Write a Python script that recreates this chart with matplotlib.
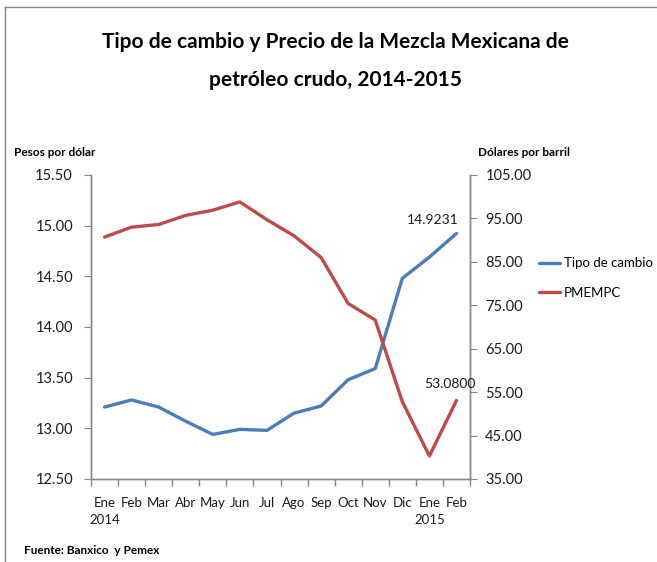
import matplotlib
matplotlib.use("Agg")
import matplotlib.pyplot as plt
from matplotlib.lines import Line2D
import numpy as np

plt.rcParams["font.family"] = ["Lato", "DejaVu Sans"]

# Data
months = ["Ene\n2014", "Feb", "Mar", "Abr", "May", "Jun", "Jul", "Ago", "Sep",
          "Oct", "Nov", "Dic", "Ene\n2015", "Feb"]
tipo_cambio = [13.21, 13.28, 13.21, 13.07, 12.94, 12.99, 12.98, 13.15, 13.22,
               13.48, 13.59, 14.48, 14.69, 14.9231]
pmempc = [90.7, 93.0, 93.6, 95.7, 96.9, 98.8, 94.7, 91.0, 86.0,
          75.4, 71.6, 52.8, 40.3, 53.08]

blue = "#4A7EBB"
red = "#BE4B48"
grey = "#868686"

fig = plt.figure(figsize=(6.57, 5.62), dpi=100)
ax = fig.add_axes([91 / 657, 1 - 479 / 562, 379 / 657, 304 / 562])
ax2 = ax.twinx()

x = np.arange(len(months))
ax.plot(x, tipo_cambio, color=blue, lw=2.4, solid_capstyle="round",
        label="Tipo de cambio")
ax2.plot(x, pmempc, color=red, lw=2.4, solid_capstyle="round", label="PMEMPC")

ax.set_xlim(-0.5, len(months) - 0.5)
ax.set_ylim(12.5, 15.5)
ax2.set_ylim(35, 105)
ax.set_yticks(np.arange(12.5, 15.51, 0.5))
ax.set_yticklabels([f"{v:.2f}" for v in np.arange(12.5, 15.51, 0.5)])
ax2.set_yticks(np.arange(35, 105.1, 10))
ax2.set_yticklabels([f"{v:.2f}" for v in np.arange(35, 105.1, 10)])

# category boundaries as ticks, labels centred
ax.set_xticks(np.arange(-0.5, len(months), 1.0))
ax.set_xticklabels([])
ax.set_xticks(x, minor=True)
ax.set_xticklabels(months, minor=True, fontsize=9.5, color="#1a1a1a",
                   linespacing=1.45)
ax.tick_params(axis="x", which="minor", length=0, pad=13)
ax.tick_params(axis="x", which="major", length=5, color=grey, width=1)

for a in (ax, ax2):
    a.spines["top"].set_visible(False)
    for s in ("left", "right", "bottom"):
        a.spines[s].set_color(grey)
        a.spines[s].set_linewidth(1)
    a.tick_params(axis="y", length=5, color=grey, labelsize=10.5,
                  labelcolor="#1a1a1a")
ax.tick_params(axis="y", pad=8)
ax2.tick_params(axis="y", pad=6)

# data labels on the last point
ax.annotate(f"{tipo_cambio[-1]:.4f}", (x[-1], tipo_cambio[-1]),
            xytext=(-17, 10), textcoords="offset points", ha="center",
            va="center", fontsize=10, color="#1a1a1a")
ax2.annotate(f"{pmempc[-1]:.4f}", (x[-1], pmempc[-1]),
             xytext=(-5, 12), textcoords="offset points", ha="center",
             va="center", fontsize=10, color="#1a1a1a")

# legend
h1, l1 = ax.get_legend_handles_labels()
h2, l2 = ax2.get_legend_handles_labels()
fig.legend(h1 + h2, l1 + l2, loc="center left",
           bbox_to_anchor=(539 / 657, 1 - 278 / 562), frameon=False,
           fontsize=9.5, handlelength=1.6, labelspacing=1.3,
           handletextpad=0.3, borderpad=0, borderaxespad=0)

# texts
fig.text(335 / 657, 1 - 42 / 562,
         "Tipo de cambio y Precio de la Mezcla Mexicana de",
         ha="center", va="center", fontsize=15, fontweight="bold")
fig.text(335 / 657, 1 - 80 / 562, "petróleo crudo, 2014-2015",
         ha="center", va="center", fontsize=15, fontweight="bold")
fig.text(14 / 657, 1 - 152 / 562, "Pesos por dólar", ha="left",
         va="center", fontsize=8.5, fontweight="bold")
fig.text(478 / 657, 1 - 152 / 562, "Dólares por barril", ha="left",
         va="center", fontsize=8.5, fontweight="bold")
fig.text(24 / 657, 1 - 551 / 562, "Fuente: Banxico  y Pemex", ha="left",
         va="center", fontsize=8.5, fontweight="bold")

# chart area border (top and left edges visible)
fig.add_artist(Line2D([5 / 657, 1], [1 - 7 / 562, 1 - 7 / 562],
                      transform=fig.transFigure, color=grey, lw=1))
fig.add_artist(Line2D([5 / 657, 5 / 657], [0, 1 - 7 / 562],
                      transform=fig.transFigure, color=grey, lw=1))

fig.savefig("out.png", dpi=100)
